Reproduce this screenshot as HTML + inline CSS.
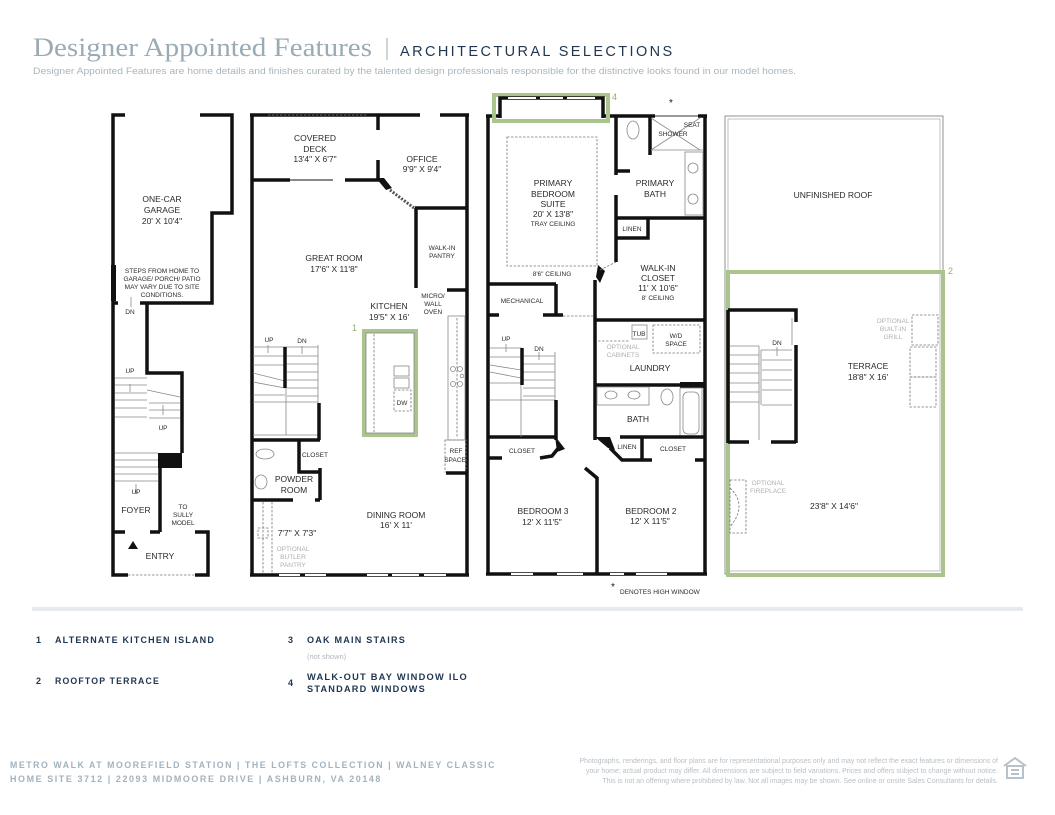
<!DOCTYPE html>
<html><head><meta charset="utf-8"><style>
html,body{margin:0;padding:0;background:#fff;width:1055px;height:815px;overflow:hidden}
svg{display:block}
text{font-family:"Liberation Sans",sans-serif}
.r{font-size:8.5px;fill:#2a2a2a;text-anchor:middle}
.s{font-size:6.5px;fill:#2a2a2a;text-anchor:middle}
.g{font-size:6.5px;fill:#b0b0b0;text-anchor:middle}
.w{stroke:#111;stroke-width:3.5;fill:none}
.t{stroke:#888;stroke-width:0.8;fill:none}
.d{stroke:#777;stroke-width:0.8;fill:none;stroke-dasharray:2.5 1.5}
.gr{stroke:#a9c48c;stroke-width:4;fill:none}
.L{font-size:9px;font-weight:bold;fill:#1f3550;letter-spacing:1.2px}
</style></head><body>
<svg width="1055" height="815" viewBox="0 0 1055 815" xmlns="http://www.w3.org/2000/svg">
<!-- header -->
<text x="33" y="56" textLength="339" lengthAdjust="spacingAndGlyphs" style="font-family:'Liberation Serif',serif;font-size:26px;fill:#9aabb5">Designer Appointed Features</text>
<line x1="387" y1="38" x2="387" y2="60" stroke="#9aabb5" stroke-width="1"/>
<text x="400" y="56" style="font-size:14.5px;fill:#1f3550;letter-spacing:2.4px">ARCHITECTURAL SELECTIONS</text>
<text x="33" y="74" textLength="763" lengthAdjust="spacingAndGlyphs" style="font-size:9.6px;fill:#a9b5bd">Designer Appointed Features are home details and finishes curated by the talented design professionals responsible for the distinctive looks found in our model homes.</text>

<!-- PLAN 1 garage -->
<g>
<polyline class="w" points="125,115 113,115 113,575 128,575"/>
<polyline class="w" points="200,115 232,115 232,213 212,213 212,303 140,303"/>
<line class="w" x1="113" y1="303" x2="118" y2="303"/>
<rect x="111" y="265" width="5" height="36" fill="#111"/>
<polyline class="w" points="147,303 147,373 182,373 182,453"/>
<rect x="158" y="453" width="24" height="15" fill="#111"/>
<line class="w" x1="160" y1="467" x2="160" y2="532"/>
<polyline class="w" points="113,532 125,532"/>
<polyline class="w" points="150,532 160,532"/>
<polyline class="w" points="195,532 208,532 208,575 195,575"/>
<line class="d" x1="128" y1="575" x2="195" y2="575"/>
<polygon points="133,541 138,549 128,549" fill="#111"/>
<g class="t">
<line x1="115" y1="378" x2="147" y2="378"/><line x1="115" y1="385" x2="147" y2="385"/><line x1="115" y1="393" x2="147" y2="393"/><line x1="115" y1="400" x2="147" y2="400"/><line x1="115" y1="408" x2="147" y2="408"/><line x1="115" y1="417" x2="147" y2="417"/>
<line x1="147" y1="390" x2="180" y2="397"/><line x1="149" y1="403" x2="180" y2="403"/><line x1="149" y1="410" x2="180" y2="410"/><line x1="149" y1="418" x2="180" y2="418"/>
<line x1="115" y1="453" x2="158" y2="453"/><line x1="115" y1="460" x2="158" y2="460"/><line x1="115" y1="467" x2="158" y2="467"/><line x1="115" y1="474" x2="158" y2="474"/><line x1="115" y1="481" x2="158" y2="481"/>
<line x1="130" y1="384" x2="130" y2="392"/><line x1="163" y1="405" x2="163" y2="415"/><line x1="136" y1="484" x2="136" y2="494"/><line x1="131" y1="297" x2="131" y2="307"/>
</g>
<text class="r" x="162" y="202">ONE-CAR</text><text class="r" x="162" y="213">GARAGE</text><text class="r" x="162" y="224">20' X 10'4"</text>
<text class="s" x="162" y="273">STEPS FROM HOME TO</text><text class="s" x="162" y="281">GARAGE/ PORCH/ PATIO</text><text class="s" x="162" y="289">MAY VARY DUE TO SITE</text><text class="s" x="162" y="297">CONDITIONS.</text>
<text class="s" x="130" y="314">DN</text><text class="s" x="130" y="373">UP</text><text class="s" x="163" y="430">UP</text><text class="s" x="136" y="494">UP</text>
<text class="r" x="136" y="513">FOYER</text>
<text class="s" x="183" y="509">TO</text><text class="s" x="183" y="517">SULLY</text><text class="s" x="183" y="525">MODEL</text>
<text class="r" x="160" y="559">ENTRY</text>
</g>

<!-- PLAN 2 main -->
<g>
<line class="w" x1="252" y1="115" x2="252" y2="575"/>
<line class="w" x1="467" y1="115" x2="467" y2="575"/>
<line class="w" x1="250" y1="115" x2="378" y2="115"/><line class="d" x1="268" y1="115" x2="368" y2="115"/>
<line class="w" x1="378" y1="115" x2="420" y2="115"/><line class="w" x1="440" y1="115" x2="469" y2="115"/>
<polyline class="w" points="378,115 378,130"/><polyline class="w" points="378,160 378,180"/>
<line class="w" x1="252" y1="180" x2="290" y2="180"/><line x1="290" y1="180" x2="333" y2="180" stroke="#888" stroke-width="2"/><line class="w" x1="345" y1="180" x2="380" y2="180"/>
<polygon points="376,178 384,178 392,188 386,190" fill="#111"/>
<line x1="390" y1="190" x2="414" y2="208" stroke="#555" stroke-width="3" stroke-dasharray="2 1.5"/>
<line class="w" x1="415" y1="208" x2="467" y2="208"/>
<line class="w" x1="416" y1="208" x2="416" y2="288"/><line class="w" x1="447" y1="290" x2="467" y2="290"/>
<rect x="448" y="316" width="17" height="124" class="t"/><line class="d" x1="457" y1="318" x2="457" y2="438"/>
<circle cx="453" cy="369" r="2.5" class="t"/><circle cx="460" cy="369" r="2.5" class="t"/><circle cx="453" cy="384" r="2.5" class="t"/><circle cx="460" cy="384" r="2.5" class="t"/><circle cx="462" cy="376" r="1.8" class="t"/>
<rect x="445" y="440" width="21" height="32" class="d"/><line class="w" x1="446" y1="473" x2="467" y2="473"/>
<rect x="364" y="331" width="52" height="104" class="gr"/>
<rect x="366" y="333" width="48" height="100" fill="none" stroke="#888" stroke-width="0.8"/>
<line class="d" x1="374" y1="334" x2="374" y2="432"/>
<rect x="394" y="366" width="15" height="10" class="t"/><rect x="394" y="378" width="15" height="10" class="t"/><rect x="394" y="390" width="17" height="21" class="d"/>
<g class="t">
<line x1="253" y1="347" x2="318" y2="347"/><line x1="318" y1="345" x2="318" y2="403"/><line x1="286" y1="347" x2="286" y2="435"/>
<line x1="253" y1="356" x2="285" y2="356"/><line x1="253" y1="365" x2="285" y2="365"/><line x1="253" y1="373" x2="285" y2="381"/><line x1="253" y1="382" x2="285" y2="388"/><line x1="253" y1="395" x2="285" y2="395"/><line x1="253" y1="402" x2="318" y2="402"/>
<line x1="287" y1="356" x2="318" y2="356"/><line x1="287" y1="364" x2="318" y2="364"/><line x1="287" y1="372" x2="318" y2="372"/><line x1="287" y1="380" x2="318" y2="380"/><line x1="287" y1="388" x2="318" y2="388"/><line x1="287" y1="396" x2="318" y2="396"/>
<line x1="253" y1="435" x2="320" y2="435"/>
<line x1="268" y1="345" x2="268" y2="353"/><line x1="302" y1="346" x2="302" y2="354"/>
</g>
<line class="w" x1="285" y1="347" x2="285" y2="388"/><line class="w" x1="319" y1="403" x2="319" y2="440"/>
<line class="w" x1="252" y1="440" x2="320" y2="440"/><polyline class="w" points="299,440 299,472 320,472"/>
<line class="w" x1="320" y1="468" x2="320" y2="500"/><line class="w" x1="252" y1="500" x2="293" y2="500"/><line class="w" x1="315" y1="500" x2="320" y2="500"/>
<ellipse cx="265" cy="454" rx="9" ry="5" class="t"/><ellipse cx="261" cy="482" rx="6" ry="7" class="t"/>
<line class="d" x1="263" y1="502" x2="263" y2="573"/><line class="d" x1="272" y1="502" x2="272" y2="573"/><rect x="258" y="528" width="10" height="10" class="d"/>
<line class="w" x1="250" y1="575" x2="469" y2="575"/>
<g stroke="#fff" stroke-width="2"><line x1="279" y1="575" x2="300" y2="575"/><line x1="305" y1="575" x2="326" y2="575"/><line x1="367" y1="575" x2="388" y2="575"/><line x1="392" y1="575" x2="419" y2="575"/><line x1="424" y1="575" x2="446" y2="575"/></g>
<text class="r" x="315" y="141">COVERED</text><text class="r" x="315" y="152">DECK</text><text class="r" x="315" y="162">13'4" X 6'7"</text>
<text class="r" x="422" y="162">OFFICE</text><text class="r" x="422" y="172">9'9" X 9'4"</text>
<text class="s" x="442" y="250">WALK-IN</text><text class="s" x="442" y="258">PANTRY</text>
<text class="r" x="334" y="261">GREAT ROOM</text><text class="r" x="334" y="272">17'6" X 11'8"</text>
<text class="s" x="433" y="298">MICRO/</text><text class="s" x="433" y="306">WALL</text><text class="s" x="433" y="314">OVEN</text>
<text class="r" x="389" y="309">KITCHEN</text><text class="r" x="389" y="320">19'5" X 16'</text>
<text x="352" y="331" style="font-size:9px;fill:#8fb06b">1</text>
<text class="s" x="269" y="342">UP</text><text class="s" x="302" y="343">DN</text><text class="s" x="402" y="405">DW</text>
<text class="s" x="456" y="453">REF</text><text class="s" x="455" y="462">SPACE</text>
<text class="s" x="315" y="457">CLOSET</text>
<text class="r" x="294" y="482">POWDER</text><text class="r" x="294" y="493">ROOM</text>
<text class="r" x="396" y="518">DINING ROOM</text><text class="r" x="396" y="528">16' X 11'</text>
<text class="r" x="297" y="536">7'7" X 7'3"</text>
<text class="g" x="293" y="551">OPTIONAL</text><text class="g" x="293" y="559">BUTLER</text><text class="g" x="293" y="567">PANTRY</text>
</g>

<!-- PLAN 3 upper -->
<g>
<line class="w" x1="488" y1="115" x2="488" y2="575"/><line class="w" x1="705" y1="115" x2="705" y2="575"/>
<line class="w" x1="486" y1="116" x2="500" y2="116"/><line class="w" x1="603" y1="116" x2="655" y2="116"/><line class="w" x1="698" y1="116" x2="707" y2="116"/>
<line x1="655" y1="116" x2="698" y2="116" stroke="#999" stroke-width="2"/>
<rect x="494" y="95" width="114" height="26" class="gr"/>
<polyline class="w" points="500,118 500,98 603,98 603,118"/>
<g stroke="#fff" stroke-width="2"><line x1="508" y1="98" x2="536" y2="98"/><line x1="540" y1="98" x2="563" y2="98"/><line x1="567" y1="98" x2="595" y2="98"/></g>
<text x="612" y="100" style="font-size:9px;fill:#8fb06b">4</text>
<text x="669" y="106" style="font-size:10px;fill:#111">*</text>
<rect x="507" y="137" width="90" height="129" class="d"/>
<line class="w" x1="616" y1="116" x2="616" y2="175"/><line class="w" x1="616" y1="195" x2="616" y2="262"/>
<line class="w" x1="650" y1="116" x2="650" y2="155"/>
<line class="t" x1="651" y1="118" x2="700" y2="150"/><line class="t" x1="700" y1="118" x2="651" y2="150"/><line class="t" x1="651" y1="150" x2="703" y2="150"/>
<rect x="685" y="152" width="18" height="63" class="t"/><circle cx="693" cy="168" r="5" class="t"/><circle cx="693" cy="199" r="5" class="t"/>
<ellipse cx="633" cy="130" rx="6" ry="9" class="t"/>
<line class="w" x1="616" y1="171" x2="630" y2="171"/>
<polyline class="w" points="616,218 705,218"/><polyline class="w" points="648,218 648,238 616,238"/>
<polygon points="598,265 596,277 600,283 605,271" fill="#111"/>
<line class="d" x1="600" y1="270" x2="616" y2="262"/>
<line class="w" x1="595" y1="280" x2="595" y2="440"/>
<line class="w" x1="488" y1="284" x2="556" y2="284"/><line class="w" x1="556" y1="284" x2="556" y2="315"/>
<line class="w" x1="488" y1="315" x2="499" y2="315"/><line class="w" x1="543" y1="315" x2="563" y2="315"/><line class="d" x1="563" y1="316" x2="593" y2="316"/>
<line class="w" x1="595" y1="320" x2="705" y2="320"/>
<rect x="632" y="325" width="15" height="14" class="t"/><rect x="653" y="325" width="47" height="28" class="d"/>
<line class="d" x1="598" y1="341" x2="630" y2="341"/>
<line class="w" x1="595" y1="385" x2="680" y2="385"/><line x1="680" y1="385" x2="705" y2="385" stroke="#111" stroke-width="6"/>
<rect x="597" y="387" width="52" height="18" class="t"/><ellipse cx="611" cy="395" rx="6" ry="4" class="t"/><ellipse cx="634" cy="395" rx="6" ry="4" class="t"/>
<ellipse cx="667" cy="397" rx="6" ry="8" class="t"/>
<rect x="680" y="388" width="22" height="49" class="t"/><rect x="683" y="392" width="16" height="42" rx="5" class="t"/>
<line class="w" x1="620" y1="437" x2="705" y2="437"/>
<polygon points="595,437 610,437 615,450 608,448" fill="#111"/>
<polyline class="w" points="610,448 622,460 652,460"/><line class="w" x1="642" y1="437" x2="642" y2="460"/><line class="w" x1="695" y1="460" x2="705" y2="460"/>
<line class="w" x1="488" y1="437" x2="557" y2="437"/><polygon points="555,436 565,449 557,452" fill="#111"/>
<line class="w" x1="488" y1="458" x2="502" y2="458"/><polyline class="w" points="540,458 552,456 560,446"/>
<polyline class="w" points="585,468 597,478 597,575"/>
<g class="t">
<line x1="490" y1="348" x2="522" y2="348"/><line x1="522" y1="356" x2="555" y2="356"/><line x1="555" y1="352" x2="555" y2="437"/><line x1="521" y1="348" x2="521" y2="437"/>
<line x1="490" y1="357" x2="521" y2="357"/><line x1="490" y1="365" x2="521" y2="370"/><line x1="490" y1="372" x2="521" y2="378"/><line x1="490" y1="383" x2="521" y2="383"/><line x1="490" y1="400" x2="555" y2="400"/>
<line x1="523" y1="364" x2="555" y2="364"/><line x1="523" y1="372" x2="555" y2="372"/><line x1="523" y1="380" x2="555" y2="380"/><line x1="523" y1="388" x2="555" y2="388"/><line x1="523" y1="396" x2="555" y2="396"/>
<line x1="506" y1="344" x2="506" y2="352"/><line x1="539" y1="352" x2="539" y2="360"/>
</g>
<line class="w" x1="522" y1="348" x2="522" y2="385"/><line class="w" x1="556" y1="400" x2="556" y2="440"/>
<line class="w" x1="486" y1="574" x2="707" y2="574"/>
<g stroke="#fff" stroke-width="2"><line x1="511" y1="574" x2="533" y2="574"/><line x1="557" y1="574" x2="583" y2="574"/><line x1="610" y1="574" x2="624" y2="574"/><line x1="636" y1="574" x2="667" y2="574"/></g>
<text class="r" x="553" y="186">PRIMARY</text><text class="r" x="553" y="197">BEDROOM</text><text class="r" x="553" y="207">SUITE</text><text class="r" x="553" y="217">20' X 13'8"</text><text class="s" x="553" y="226">TRAY CEILING</text>
<text class="s" x="552" y="276">8'6" CEILING</text>
<text class="r" x="655" y="186">PRIMARY</text><text class="r" x="655" y="197">BATH</text>
<text class="s" x="673" y="136">SHOWER</text><text class="s" x="692" y="127">SEAT</text>
<text class="s" x="632" y="231">LINEN</text>
<text class="r" x="658" y="271">WALK-IN</text><text class="r" x="658" y="281">CLOSET</text><text class="r" x="658" y="291">11' X 10'6"</text><text class="s" x="658" y="300">8' CEILING</text>
<text class="s" x="522" y="303">MECHANICAL</text>
<text class="s" x="639" y="336">TUB</text><text class="s" x="676" y="338">W/D</text><text class="s" x="676" y="346">SPACE</text>
<text class="g" x="623" y="349">OPTIONAL</text><text class="g" x="623" y="357">CABINETS</text>
<text class="r" x="650" y="371">LAUNDRY</text>
<text class="r" x="638" y="422">BATH</text>
<text class="s" x="627" y="449">LINEN</text><text class="s" x="673" y="451">CLOSET</text><text class="s" x="522" y="453">CLOSET</text>
<text class="s" x="506" y="341">UP</text><text class="s" x="539" y="351">DN</text>
<text class="r" x="543" y="514">BEDROOM 3</text><text class="r" x="542" y="525">12' X 11'5"</text>
<text class="r" x="651" y="514">BEDROOM 2</text><text class="r" x="650" y="524">12' X 11'5"</text>
<text x="611" y="590" style="font-size:10px;fill:#111">*</text><text x="620" y="594" style="font-size:6.5px;fill:#2a2a2a">DENOTES HIGH WINDOW</text>
</g>

<!-- PLAN 4 roof -->
<g>
<rect x="725" y="116" width="218" height="458" fill="none" stroke="#777" stroke-width="0.8"/>
<rect x="728" y="119" width="212" height="452" fill="none" stroke="#999" stroke-width="0.6"/>
<rect x="728" y="272" width="215" height="303" class="gr"/>
<text x="948" y="274" style="font-size:9px;fill:#8fb06b">2</text>
<polyline class="w" points="728,310 796,310 796,322"/><line class="w" x1="796" y1="345" x2="796" y2="443"/>
<line class="w" x1="728" y1="310" x2="728" y2="443"/>
<line class="w" x1="728" y1="442" x2="749" y2="442"/><line class="w" x1="771" y1="442" x2="796" y2="442"/>
<g class="t">
<line x1="730" y1="346" x2="759" y2="346"/><line x1="759" y1="346" x2="759" y2="440"/><line x1="761" y1="350" x2="792" y2="350"/><line x1="761" y1="350" x2="761" y2="405"/>
<line x1="730" y1="355" x2="759" y2="355"/><line x1="730" y1="364" x2="759" y2="364"/><line x1="730" y1="373" x2="759" y2="373"/><line x1="730" y1="383" x2="759" y2="383"/><line x1="730" y1="392" x2="759" y2="392"/><line x1="730" y1="402" x2="759" y2="402"/>
<line x1="762" y1="360" x2="792" y2="360"/><line x1="762" y1="370" x2="792" y2="370"/><line x1="762" y1="380" x2="792" y2="380"/><line x1="762" y1="390" x2="792" y2="390"/><line x1="762" y1="405" x2="792" y2="405"/>
<line x1="777" y1="347" x2="777" y2="356"/><line x1="792" y1="318" x2="792" y2="345"/>
</g>
<rect x="912" y="315" width="26" height="30" class="d"/><rect x="910" y="347" width="26" height="30" class="d"/><rect x="910" y="377" width="26" height="30" class="d"/>
<rect x="730" y="480" width="16" height="53" class="d"/><path d="M730,488 Q748,505 730,527" class="d"/>
<text class="r" x="833" y="198">UNFINISHED ROOF</text>
<text class="g" x="893" y="323">OPTIONAL</text><text class="g" x="893" y="331">BUILT-IN</text><text class="g" x="893" y="339">GRILL</text>
<text class="s" x="777" y="345">DN</text>
<text class="r" x="868" y="369">TERRACE</text><text class="r" x="868" y="380">18'8" X 16'</text>
<text class="g" x="768" y="485">OPTIONAL</text><text class="g" x="768" y="493">FIREPLACE</text>
<text class="r" x="834" y="509">23'8" X 14'6"</text>
</g>

<!-- legend -->
<rect x="32" y="607" width="991" height="4" fill="#e6eaee"/>
<text class="L" x="36" y="643">1</text><text class="L" x="55" y="643" textLength="160" lengthAdjust="spacingAndGlyphs">ALTERNATE KITCHEN ISLAND</text>
<text class="L" x="36" y="684">2</text><text class="L" x="55" y="684" textLength="105" lengthAdjust="spacingAndGlyphs">ROOFTOP TERRACE</text>
<text class="L" x="288" y="643">3</text><text class="L" x="307" y="643" textLength="99" lengthAdjust="spacingAndGlyphs">OAK MAIN STAIRS</text>
<text x="307" y="659" style="font-size:7.5px;fill:#b0b8bf">(not shown)</text>
<text class="L" x="288" y="686">4</text><text class="L" x="307" y="680" textLength="161" lengthAdjust="spacingAndGlyphs">WALK-OUT BAY WINDOW ILO</text><text class="L" x="307" y="692" textLength="119" lengthAdjust="spacingAndGlyphs">STANDARD WINDOWS</text>

<!-- footer -->
<text x="10" y="768" textLength="486" lengthAdjust="spacingAndGlyphs" style="font-size:9px;font-weight:bold;fill:#a2b2be;letter-spacing:1.6px">METRO WALK AT MOOREFIELD STATION  |  THE LOFTS COLLECTION  |  WALNEY CLASSIC</text>
<text x="10" y="782" textLength="372" lengthAdjust="spacingAndGlyphs" style="font-size:9px;font-weight:bold;fill:#a2b2be;letter-spacing:1.6px">HOME SITE 3712  |  22093 MIDMOORE DRIVE  |  ASHBURN, VA 20148</text>
<g style="font-size:7px;fill:#b8c0c6" text-anchor="end">
<text x="998" y="763">Photographs, renderings, and floor plans are for representational purposes only and may not reflect the exact features or dimensions of</text>
<text x="998" y="773">your home; actual product may differ. All dimensions are subject to field variations. Prices and offers subject to change without notice.</text>
<text x="998" y="783">This is not an offering where prohibited by law. Not all images may be shown. See online or onsite Sales Consultants for details.</text>
</g>
<g fill="none" stroke="#b8c2ca" stroke-width="2">
<polyline points="1004,766 1015,758 1026,766"/><rect x="1007" y="766" width="16" height="12"/>
<line x1="1011" y1="770" x2="1019" y2="770"/><line x1="1011" y1="774" x2="1019" y2="774"/>
</g>
</svg>
</body></html>
